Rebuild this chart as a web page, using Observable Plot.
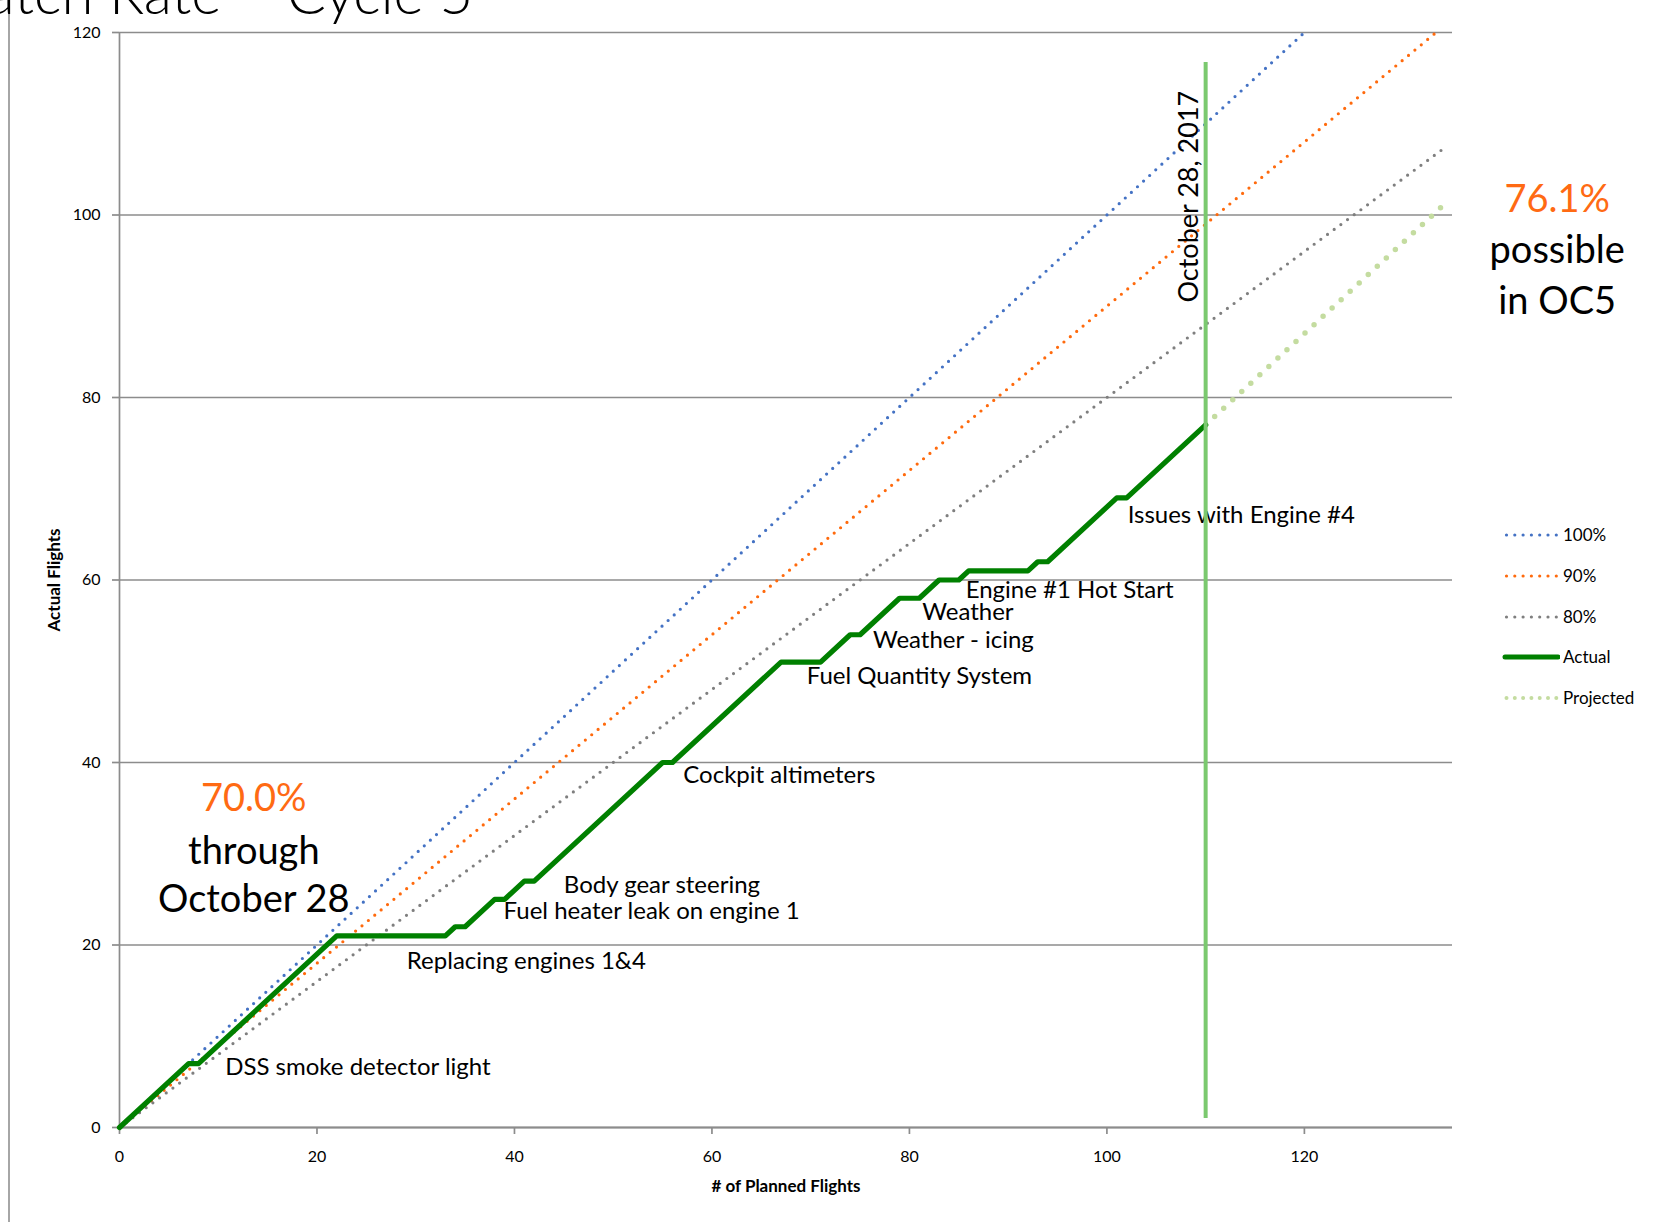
<!DOCTYPE html>
<html>
<head>
<meta charset="utf-8">
<script src="https://cdn.jsdelivr.net/npm/d3@7"></script>
<script src="https://cdn.jsdelivr.net/npm/@observablehq/plot@0.6"></script>
<style>
  html, body { margin: 0; padding: 0; background: #fff; overflow: hidden; width: 1663px; height: 1222px; }
  #wrap { position: relative; width: 1663px; height: 1222px; font-family: Lato, "Open Sans", sans-serif; }
  #wrap > svg { position: absolute; left: 0; top: 0; }
  #border { position: absolute; left: 8px; top: 0; width: 2px; height: 1222px; background: #a6a6a6; }
  .lg-row { position: absolute; left: 1500px; height: 20px; display: flex; align-items: center; }
  .lg-row span { font-size: 17px; line-height: 20px; color: #000; margin-left: 3px; }
</style>
</head>
<body>
<div id="wrap"><div id="border"></div></div>
<script>
// ---- data ----
const planned = [0, 7, 8, 22, 33, 34, 35, 38, 39, 41, 42, 55, 56, 67, 71, 74, 75, 79, 81, 83, 85, 86, 92, 93, 94, 101, 102, 110];
const actual  = [0, 7, 7, 21, 21, 22, 22, 25, 25, 27, 27, 40, 40, 51, 51, 54, 54, 58, 58, 60, 60, 61, 61, 62, 62, 69, 69, 77];

const targetLabels = ["100%", "90%", "80%"];
const targetRates = [1.0, 0.9, 0.8];
const planStart = 0;
const planEnd = 134;

const projPlanned = [110, 134];
const projActual = [77, 101];

const cutoffPlanned = 110;
const cutoffSpan = [1, 116.7];
const cutoffLabel = "October 28, 2017";

const xTicks = [0, 20, 40, 60, 80, 100, 120];
const yTicks = [0, 20, 40, 60, 80, 100, 120];

const noteLabels = [
  "DSS smoke detector light",
  "Replacing engines 1&4",
  "Fuel heater leak on engine 1",
  "Body gear steering",
  "Cockpit altimeters",
  "Fuel Quantity System",
  "Weather - icing",
  "Weather",
  "Engine #1 Hot Start",
  "Issues with Engine #4"
];
const noteX = [10.7, 29.1, 38.9, 45.0, 57.1, 69.6, 76.3, 81.3, 85.7, 102.1];
const noteY = [5.7, 17.4, 22.9, 25.75, 37.8, 48.55, 52.5, 55.6, 58.0, 66.3];

const summaryLeft = ["70.0%", "through", "October 28"];
const summaryLeftY = [34.7, 28.9, 23.6];
const summaryLeftX = 13.6;
const summaryRight = ["76.1%", "possible", "in OC5"];
const summaryRightY = [100.3, 94.7, 89.2];
const summaryRightX = 145.6;

const titleText = "atch Rate \u2013 Cycle 5";
const xTitle = "# of Planned Flights";
const yTitle = "Actual Flights";

const legendLabels = ["100%", "90%", "80%", "Actual", "Projected"];

// ---- styles ----
const colors = {"100%": "#4472C4", "90%": "#FF6A0D", "80%": "#7f7f7f", "Actual": "#008000", "Projected": "#C4DCA0"};
const orangeText = "#FF6A13";
const gridColor = "#8c8c8c";
const font = "Lato, 'Open Sans', sans-serif";

// ---- derived tables ----
const actualData = planned.map((p, i) => ({p, a: actual[i]}));
const projData = projPlanned.map((p, i) => ({p, a: projActual[i]}));
const targetData = targetLabels.map((s, i) => [planStart, planEnd].map(p => ({p, a: targetRates[i] * p, s})));
const notes = noteLabels.map((t, i) => ({t, x: noteX[i], y: noteY[i]}));
const leftSummary = summaryLeft.map((t, i) => ({t, y: summaryLeftY[i], x: summaryLeftX, c: i === 0 ? orangeText : "#000"}));
const rightSummary = summaryRight.map((t, i) => ({t, y: summaryRightY[i], x: summaryRightX, c: i === 0 ? orangeText : "#000"}));

const dotted = (s) => ({stroke: colors[s], strokeWidth: 3.2, strokeDasharray: "0 8.3", strokeLinecap: "round"});

const chart = Plot.plot({
  width: 1663,
  height: 1222,
  marginLeft: 119,
  marginRight: 211,
  marginTop: 32,
  marginBottom: 95,
  style: {fontFamily: font, fontSize: "16px", color: "#000", background: "transparent", overflow: "hidden"},
  x: {domain: [0, 135]},
  y: {domain: [0, 120]},
  marks: [
    Plot.gridY(yTicks, {stroke: gridColor, strokeOpacity: 1, strokeWidth: 1.7}),
    Plot.ruleX([0], {stroke: gridColor, strokeWidth: 1.7}),
    Plot.ruleY([0], {stroke: gridColor, strokeWidth: 2.2}),
    Plot.axisY(yTicks, {tickSize: 7, tickPadding: 12, stroke: gridColor, strokeWidth: 1.7, fontSize: 16, label: null}),
    Plot.axisX(xTicks, {tickSize: 7, tickPadding: 16, stroke: gridColor, strokeWidth: 1.7, fontSize: 16, label: null}),
    ...targetData.map((d, i) => Plot.line(d, {x: "p", y: "a", clip: true, ...dotted(targetLabels[i])})),
    Plot.line(projData, {x: "p", y: "a", stroke: colors["Projected"], strokeWidth: 5.5, strokeDasharray: "0 12.3", strokeLinecap: "round"}),
    Plot.line(actualData, {x: "p", y: "a", stroke: colors["Actual"], strokeWidth: 5.2, strokeLinejoin: "round", strokeLinecap: "round"}),
    Plot.text(notes, {x: "x", y: "y", text: "t", textAnchor: "start", lineAnchor: "bottom", fontSize: 24, fill: "#000"}),
    Plot.ruleX([cutoffPlanned], {y1: cutoffSpan[0], y2: cutoffSpan[1], stroke: "#7BC96F", strokeWidth: 4}),
    Plot.text([cutoffLabel], {x: cutoffPlanned, y: 90.4, rotate: -90, textAnchor: "start", lineAnchor: "bottom", dx: -8, fontSize: 27, fill: "#000"}),
    Plot.text(leftSummary, {x: "x", y: "y", text: "t", fill: "c", textAnchor: "middle", lineAnchor: "bottom", fontSize: 38}),
    Plot.text(rightSummary, {x: "x", y: "y", text: "t", fill: "c", textAnchor: "middle", lineAnchor: "bottom", fontSize: 38}),
    Plot.text([xTitle], {frameAnchor: "bottom", dy: 64, lineAnchor: "bottom", textAnchor: "middle", fontSize: 17, fontWeight: "bold", fill: "#000"}),
    Plot.text([yTitle], {frameAnchor: "left", dx: -60, rotate: -90, lineAnchor: "bottom", textAnchor: "middle", fontSize: 17, fontWeight: "bold", fill: "#000"}),
    Plot.text([titleText], {frameAnchor: "top-left", dx: -133, dy: -19, lineAnchor: "bottom", textAnchor: "start", fontSize: 58, fontWeight: 300, fill: "#000"})
  ]
});

const wrap = document.getElementById("wrap");
wrap.appendChild(chart);

// ---- legend ----
const legendRowsY = [535, 576, 617, 657, 698];
legendLabels.forEach((lab, i) => {
  const row = document.createElement("div");
  row.className = "lg-row";
  row.style.top = (legendRowsY[i] - 10) + "px";
  const s = d3.create("svg").attr("width", 60).attr("height", 20);
  const ln = s.append("line").attr("x1", 6.5).attr("x2", 56.5).attr("y1", 10).attr("y2", 10)
    .attr("stroke", colors[lab]).attr("stroke-linecap", "round");
  if (lab === "Actual") ln.attr("x1", 5).attr("x2", 58).attr("stroke-width", 5);
  else if (lab === "Projected") ln.attr("stroke-width", 4).attr("stroke-dasharray", "0 8.3");
  else ln.attr("stroke-width", 3.2).attr("stroke-dasharray", "0 8.3");
  row.appendChild(s.node());
  const t = document.createElement("span");
  t.textContent = lab;
  row.appendChild(t);
  wrap.appendChild(row);
});
</script>
</body>
</html>
